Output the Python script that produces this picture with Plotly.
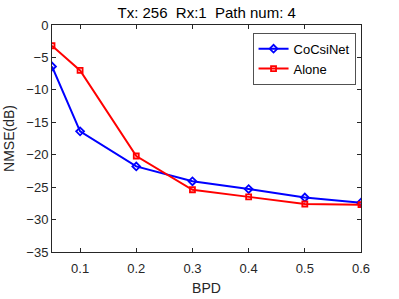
import plotly.graph_objects as go

bpd = [0.05, 0.1, 0.2, 0.3, 0.4, 0.5, 0.6]
cocsinet = [-6.4, -16.4, -21.8, -24.1, -25.3, -26.6, -27.4]
alone = [-3.2, -7.0, -20.2, -25.4, -26.5, -27.6, -27.7]

fig = go.Figure()
fig.add_trace(go.Scatter(x=bpd, y=cocsinet, name="CoCsiNet", mode="lines+markers",
                         line=dict(color="#0000ff", width=2),
                         marker=dict(symbol="diamond-open", size=6, color="#0000ff", line=dict(width=1.8))))
fig.add_trace(go.Scatter(x=bpd, y=alone, name="Alone", mode="lines+markers",
                         line=dict(color="#ff0000", width=2),
                         marker=dict(symbol="square-open", size=5, color="#ff0000", line=dict(width=1.8))))

font = "Liberation Sans, Arial, sans-serif"
fig.update_layout(
    width=399, height=299,
    margin=dict(l=52, r=38, t=25, b=47, autoexpand=False),
    plot_bgcolor="white", paper_bgcolor="white",
    font=dict(family=font, size=13, color="#262626"),
    title=dict(text="Tx: 256  Rx:1  Path num: 4", x=0.518, xanchor="center", y=0.958, yanchor="middle",
               font=dict(size=15, color="#000000")),
    showlegend=True,
    legend=dict(x=0.983, y=0.965, xanchor="right", yanchor="top", bgcolor="white",
                bordercolor="#262626", borderwidth=0.8, font=dict(size=13, color="#000"),
                tracegroupgap=0, itemwidth=30),
)
fig.update_xaxes(range=[0.05, 0.6], tickvals=[0.1, 0.2, 0.3, 0.4, 0.5, 0.6],
                 ticktext=["0.1", "0.2", "0.3", "0.4", "0.5", "0.6"], automargin=False,
                 ticks="inside", ticklen=4, tickcolor="#262626", showgrid=False, zeroline=False,
                 showline=True, linecolor="#262626", linewidth=1, mirror="ticks",
                 ticklabelstandoff=4,
                 title=dict(text="BPD", standoff=8, font=dict(size=14)))
fig.update_yaxes(range=[-35, 0], tickvals=[0, -5, -10, -15, -20, -25, -30, -35], automargin=False,
                 ticks="inside", ticklen=4, tickcolor="#262626", showgrid=False, zeroline=False,
                 showline=True, linecolor="#262626", linewidth=1, mirror="ticks",
                 title=dict(text="NMSE(dB)", standoff=8, font=dict(size=14)))
fig.write_html("out.html", config={"displayModeBar": False},
               post_script="document.body.style.margin='0';")
